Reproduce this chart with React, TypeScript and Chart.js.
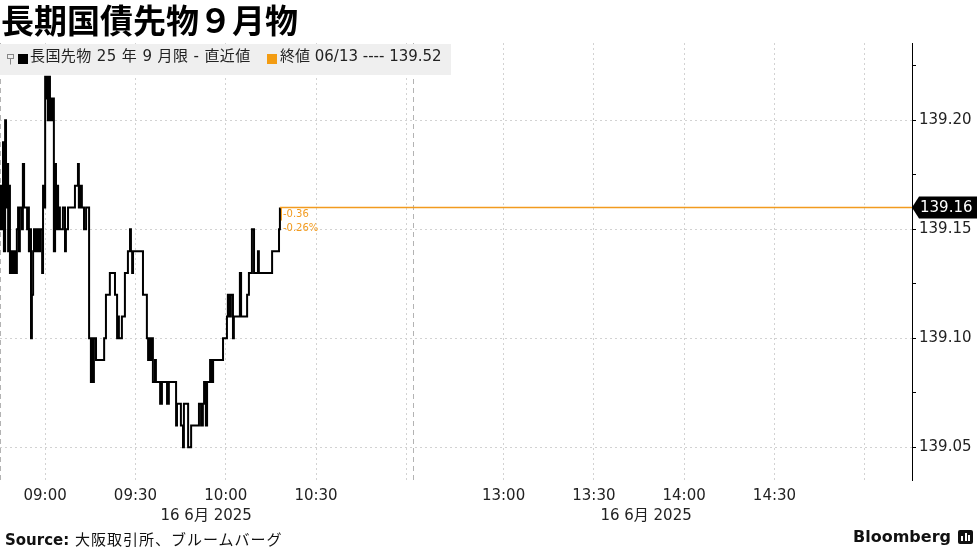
import React, { useEffect, useRef } from 'react';
import { Chart, registerables } from 'chart.js';

Chart.register(...registerables);

const LATIN = '"DejaVu Sans", "Noto Sans CJK JP", sans-serif';
const CJK = '"Noto Sans CJK JP", "DejaVu Sans", sans-serif';

// Session minutes on a compressed axis: 0 = 08:45, 137 = 11:02, 137.3 = 12:30 (afternoon open)
const tradeMinutes = [
  0, 0.3, 0.7, 1.0, 1.3, 1.7, 2.0, 2.3, 2.7, 3.0, 3.3, 3.7, 4.0, 4.3, 4.7, 5.0, 5.3, 5.6, 6.0, 6.3, 6.6,
  7.3, 7.6, 8.0, 8.3,
  9.0, 9.3, 9.6, 10.0, 10.3, 10.6, 11.0, 11.3, 11.6, 12.0, 12.3, 12.6, 13.0, 13.3,
  14.0, 14.3, 14.6, 15.0, 15.3, 15.6, 15.9, 16.3, 16.6, 16.9, 17.3, 17.6, 17.9, 18.3, 18.6, 18.9, 19.3, 19.6, 19.9, 20.3,
  20.9, 21.6, 21.9, 22.6, 23.9, 24.6, 24.9, 25.6, 25.9, 26.2, 26.6, 27.2, 27.9, 28.6, 29.2,
  29.6, 29.9, 30.2, 30.6, 30.9, 31.2, 31.9, 32.6, 33.2, 34.6, 35.2, 36.2, 36.5, 37.9, 38.2, 38.9, 39.2, 39.5, 40.5, 41.5, 42.2, 42.5, 43.2, 43.5, 43.9, 44.2, 45.5, 46.8, 47.5,
  48.8, 49.2, 49.8, 50.2, 50.5, 50.8, 51.5, 51.8, 52.5, 53.2, 53.8, 54.8, 55.5, 56.1, 57.1, 58.5, 58.8, 59.5, 60.1, 60.8, 61.1, 61.8, 62.5, 63.1, 63.5, 64.8, 65.8, 66.1, 66.8, 67.4, 67.8, 68.4, 68.8, 69.8, 70.4, 70.8, 73.4, 74.1,
  75.4, 75.7, 76.1, 76.7, 77.4, 77.7, 78.4, 79.4, 79.7, 80.1, 81.7, 82.1, 82.7, 83.4, 83.7, 84.4, 85.4, 85.7, 86.0, 89.4, 90.4, 92.4, 92.7, 93.0,
];

const tradePrices = [
  139.15, 139.17, 139.15, 139.19, 139.14, 139.20, 139.16, 139.18, 139.14, 139.17, 139.13, 139.14, 139.14, 139.13, 139.14, 139.14, 139.13, 139.15, 139.16, 139.14, 139.16,
  139.15, 139.18, 139.16, 139.16,
  139.15, 139.16, 139.14, 139.15, 139.10, 139.12, 139.14, 139.15, 139.14, 139.15, 139.14, 139.15, 139.14, 139.15,
  139.13, 139.17, 139.16, 139.22, 139.21, 139.22, 139.20, 139.22, 139.20, 139.21, 139.20, 139.21, 139.14, 139.18, 139.15, 139.17, 139.15, 139.16, 139.15, 139.15,
  139.16, 139.14, 139.15, 139.16, 139.16, 139.16, 139.17, 139.17, 139.18, 139.16, 139.17, 139.16, 139.15, 139.16, 139.16,
  139.10, 139.10, 139.08, 139.10, 139.08, 139.10, 139.09, 139.09, 139.09, 139.10, 139.12, 139.12, 139.13, 139.13, 139.12, 139.10, 139.11, 139.10, 139.11, 139.13, 139.13, 139.14, 139.15, 139.14, 139.13, 139.14, 139.14, 139.14, 139.12,
  139.10, 139.09, 139.10, 139.09, 139.10, 139.08, 139.09, 139.08, 139.08, 139.07, 139.08, 139.08, 139.07, 139.08, 139.08, 139.06, 139.07, 139.07, 139.06, 139.05, 139.07, 139.07, 139.05, 139.05, 139.06, 139.06, 139.06, 139.07, 139.06, 139.07, 139.08, 139.06, 139.08, 139.09, 139.08, 139.09, 139.09, 139.10,
  139.11, 139.12, 139.11, 139.12, 139.10, 139.11, 139.11, 139.11, 139.13, 139.11, 139.11, 139.12, 139.13, 139.13, 139.15, 139.13, 139.13, 139.14, 139.13, 139.13, 139.14, 139.14, 139.15, 139.16,
];

const lastPrice = 139.16;
const changeLabels = ['-0.36', '-0.26%'];
const seriesLabel = '長国先物 25 年 9 月限 - 直近値';
const prevCloseLabel = '終値 06/13 ---- 139.52';

const xTickMinutes = [15, 45, 75, 105, 135, 167.3, 197.3, 227.3, 257.3, 287.3];
const xTickLabels = ['09:00', '09:30', '10:00', '10:30', '', '13:00', '13:30', '14:00', '14:30', ''];
const yTickValues = [139.05, 139.075, 139.1, 139.125, 139.15, 139.175, 139.2, 139.225];
const sessionBreak = 137.2;
const sessionSpans = [[0, 137], [137.3, 292]];
const dateLabel = '16 6月 2025';
const X_MIN = 0;
const X_MAX = 303;
const Y_MIN = 139.035;
const Y_MAX = 139.2355;

const ORANGE = '#F29B1F';

const isMajor = (v: number) => Math.abs(v * 20 - Math.round(v * 20)) < 1e-6;

const overlayPlugin = {
  id: 'overlay',
  beforeDatasetsDraw(chart: any) {
    const { ctx, chartArea, scales } = chart;
    const x = scales.x;
    ctx.save();
    ctx.strokeStyle = '#b3b3b3';
    ctx.lineWidth = 1;
    ctx.setLineDash([5, 4]);
    [X_MIN, sessionBreak].forEach((v) => {
      const px = Math.round(x.getPixelForValue(v)) + 0.5;
      ctx.beginPath();
      ctx.moveTo(px, chartArea.top);
      ctx.lineTo(px, chartArea.bottom + 3);
      ctx.stroke();
    });
    ctx.restore();
  },
  afterDraw(chart: any) {
    const { ctx, chartArea, scales } = chart;
    const x = scales.x;
    const y = scales.y;
    ctx.save();
    ctx.font = '15px ' + LATIN;
    ctx.fillStyle = '#222';
    ctx.textAlign = 'center';
    ctx.textBaseline = 'middle';
    sessionSpans.forEach(([a, b]) => {
      ctx.fillText(dateLabel, x.getPixelForValue((a + b) / 2), 516);
    });

    const lastX = x.getPixelForValue(tradeMinutes[tradeMinutes.length - 1]);
    const ly = y.getPixelForValue(lastPrice);
    ctx.strokeStyle = ORANGE;
    ctx.lineWidth = 1;
    ctx.beginPath();
    ctx.moveTo(Math.round(lastX) + 1.5, ly);
    ctx.lineTo(Math.round(lastX) + 1.5, ly + 13);
    ctx.stroke();
    ctx.font = '10px ' + LATIN;
    ctx.fillStyle = ORANGE;
    ctx.textAlign = 'left';
    ctx.fillText(changeLabels[0], lastX + 3, ly + 7);
    ctx.fillText(changeLabels[1], lastX + 3, ly + 21);

    const r = chartArea.right;
    ctx.fillStyle = '#000';
    ctx.beginPath();
    ctx.moveTo(r, ly);
    ctx.lineTo(r + 7, ly - 11);
    ctx.lineTo(977, ly - 11);
    ctx.lineTo(977, ly + 11);
    ctx.lineTo(r + 7, ly + 11);
    ctx.closePath();
    ctx.fill();
    ctx.fillStyle = '#fff';
    ctx.font = '15px ' + LATIN;
    ctx.textAlign = 'left';
    ctx.fillText(lastPrice.toFixed(2), r + 8, ly + 1);
    ctx.restore();
  },
};

function ChartCanvas() {
  const ref = useRef<HTMLCanvasElement | null>(null);
  useEffect(() => {
    if (!ref.current) return;
    const points = tradeMinutes.map((t, i) => ({ x: t, y: tradePrices[i] }));
    const lastT = tradeMinutes[tradeMinutes.length - 1];
    const chart = new Chart(ref.current, {
      type: 'line',
      data: {
        datasets: [
          {
            data: [
              { x: lastT, y: lastPrice },
              { x: X_MAX, y: lastPrice },
            ],
            borderColor: ORANGE,
            borderWidth: 1.5,
            pointRadius: 0,
            fill: false,
          },
          {
            data: points,
            borderColor: '#000',
            borderWidth: 2,
            pointRadius: 0,
            stepped: true,
            fill: false,
          },
        ],
      },
      options: {
        animation: false,
        responsive: false,
        devicePixelRatio: 1,
        events: [],
        layout: { padding: { top: 43, left: 0, right: 0, bottom: 0 } },
        plugins: {
          legend: { display: false },
          tooltip: { enabled: false },
          title: { display: false },
        },
        scales: {
          x: {
            type: 'linear',
            min: X_MIN,
            max: X_MAX,
            afterBuildTicks: (scale: any) => {
              scale.ticks = xTickMinutes.map((v) => ({ value: v }));
            },
            afterFit: (scale: any) => {
              scale.height = 69;
            },
            ticks: {
              autoSkip: false,
              maxRotation: 0,
              padding: 7,
              color: '#222',
              font: { family: LATIN, size: 15 },
              callback: (_v: any, i: number) => xTickLabels[i] ?? '',
            },
            grid: {
              color: '#d2d2d2',
              drawTicks: false,
              lineWidth: 1,
            },
            border: { display: false, dash: [2, 3] },
          },
          y: {
            type: 'linear',
            position: 'right',
            min: Y_MIN,
            max: Y_MAX,
            afterBuildTicks: (scale: any) => {
              scale.ticks = yTickValues.map((v) => ({ value: v }));
            },
            afterFit: (scale: any) => {
              scale.width = 65;
            },
            ticks: {
              padding: 3,
              color: '#222',
              font: { family: LATIN, size: 15 },
              callback: (v: any) => (isMajor(Number(v)) ? Number(v).toFixed(2) : ''),
            },
            grid: {
              color: (c: any) => (c.tick && isMajor(c.tick.value) ? '#d2d2d2' : 'rgba(0,0,0,0)'),
              tickColor: '#000',
              tickLength: 4,
              lineWidth: 1,
            },
            border: { display: true, color: '#000', width: 1, dash: [2, 3] },
          },
        },
      },
      plugins: [overlayPlugin],
    } as any);
    return () => chart.destroy();
  }, []);
  return <canvas ref={ref} width={977} height={549} style={{ position: 'absolute', left: 0, top: 0, width: 977, height: 549 }} />;
}

export default function App() {
  return (
    <div style={{ position: 'absolute', left: 0, top: 0, width: 977, height: 549, background: '#fff', overflow: 'hidden' }}>
      <ChartCanvas />
      <div
        style={{
          position: 'absolute',
          left: 1,
          top: 0,
          font: `bold 33px ${CJK}`,
          lineHeight: '38px',
          color: '#000',
          whiteSpace: 'nowrap',
        }}
      >
        長期国債先物９月物
      </div>
      <div style={{ position: 'absolute', left: 0, top: 44, width: 451, height: 31, background: '#efefef' }}>
        <svg style={{ position: 'absolute', left: 7, top: 10 }} width="7" height="11" viewBox="0 0 7 11">
          <rect x="0.5" y="0.5" width="6" height="4" fill="none" stroke="#888" strokeWidth="1" />
          <line x1="3.5" y1="4.5" x2="3.5" y2="10.5" stroke="#888" strokeWidth="1" />
        </svg>
        <div style={{ position: 'absolute', left: 18, top: 10, width: 10, height: 10, background: '#000' }} />
        <div
          style={{
            position: 'absolute',
            left: 30,
            top: 0,
            lineHeight: '30px',
            font: `15px ${LATIN}`,
            letterSpacing: '0.4px',
            color: '#222',
            whiteSpace: 'nowrap',
          }}
        >
          {seriesLabel}
        </div>
        <div style={{ position: 'absolute', left: 267, top: 10, width: 10, height: 10, background: '#F39C12' }} />
        <div
          style={{
            position: 'absolute',
            left: 280,
            top: 0,
            lineHeight: '30px',
            font: `15px ${LATIN}`,
            color: '#222',
            whiteSpace: 'nowrap',
          }}
        >
          {prevCloseLabel}
        </div>
      </div>
      <div
        style={{
          position: 'absolute',
          left: 5,
          top: 528,
          lineHeight: '18px',
          font: `15px ${LATIN}`,
          color: '#111',
          whiteSpace: 'nowrap',
        }}
      >
        <span style={{ fontWeight: 'bold' }}>Source:</span>
        <span style={{ letterSpacing: '1px' }}> 大阪取引所、ブルームバーグ</span>
      </div>
      <div
        style={{
          position: 'absolute',
          left: 853,
          top: 527,
          lineHeight: '20px',
          font: `bold 16px ${LATIN}`,
          color: '#111',
          whiteSpace: 'nowrap',
        }}
      >
        Bloomberg
      </div>
      <div style={{ position: 'absolute', left: 958, top: 530, width: 15, height: 14, background: '#111', borderRadius: 2 }}>
        <div style={{ position: 'absolute', left: 3, top: 6, width: 2, height: 5, background: '#fff' }} />
        <div style={{ position: 'absolute', left: 6.5, top: 3, width: 2, height: 8, background: '#fff' }} />
        <div style={{ position: 'absolute', left: 10, top: 5, width: 2, height: 6, background: '#fff' }} />
      </div>
    </div>
  );
}
